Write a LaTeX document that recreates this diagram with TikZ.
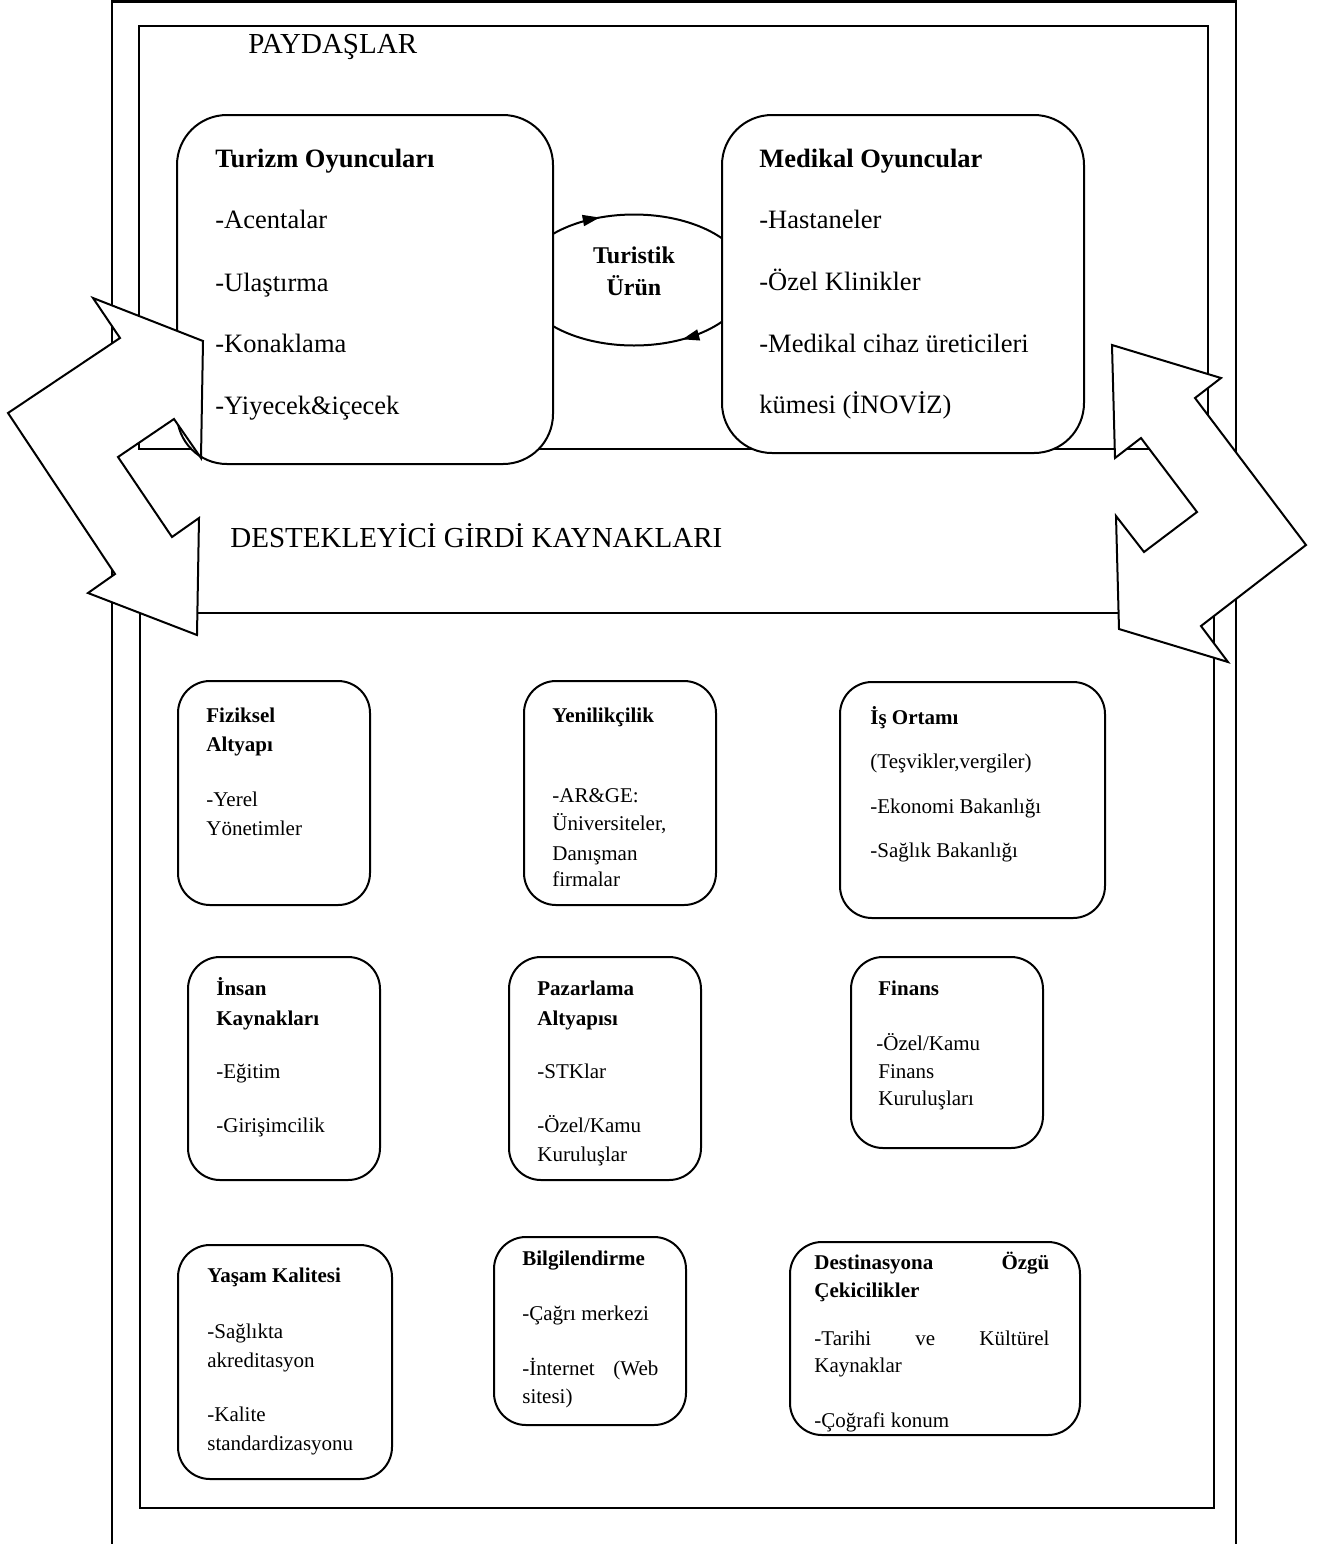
\documentclass[tikz,border=0pt]{standalone}
\usepackage{fontspec}
\setmainfont{Liberation Serif}
\usetikzlibrary{arrows.meta,decorations.markings}
\tikzset{
  frame/.style={draw=black, line width=1.4pt},
  bigbox/.style={draw=black, fill=white, line width=1pt, rounded corners=25pt, inner sep=0pt, outer sep=0pt},
  smallbox/.style={draw=black, fill=white, line width=1pt, rounded corners=16pt, inner sep=0pt, outer sep=0pt},
  bent/.style={draw=black, fill=white, line width=1pt, line join=miter},
  head/.style={anchor=base west, inner sep=0pt, font=\fontsize{14.5}{17}\selectfont},
  bigtx/.style={anchor=base west, inner sep=0pt, font=\fontsize{13.25}{16}\selectfont},
  smtx/.style={anchor=base west, inner sep=0pt, font=\fontsize{10.5}{12.6}\selectfont},
  cyctip/.tip={Triangle[length=8.5pt,width=5.5pt]},
}
\newcommand{\pbox}[6]{\node[#1, minimum width={(#5-#3)*0.5pt}, minimum height={(#6-#4)*0.5pt}] (#2) at ({(#3+#5)/2},{(#4+#6)/2}) {};}
\begin{document}
\begin{tikzpicture}[x=0.5pt,y=-0.5pt]
\useasboundingbox[fill=white] (0,0) rectangle (1319,1544);
% frames
\draw[frame] (112,1544) -- (112,1.5) -- (1236,1.5) -- (1236,1544);
\draw[frame] (139,26) rectangle (1208,449);
\draw[frame] (140,613) rectangle (1214,1508);
% cycle ellipse
\draw[line width=1pt, decoration={markings,
   mark=at position 0.19 with {\arrow{cyctip}},
   mark=at position 0.665 with {\arrow{cyctip}}},
   postaction={decorate}]
   (520,280) arc[start angle=180, end angle=-180, x radius=57pt, y radius=32.75pt];
% big boxes
\pbox{bigbox}{turizm}{177}{115}{553}{464}
\pbox{bigbox}{medikal}{722}{115}{1084}{453}
\node[anchor=base, inner sep=0pt, font=\bfseries\fontsize{12}{14}\selectfont] (tur1) at (634,263) {Turistik};
\node[anchor=base, inner sep=0pt, font=\bfseries\fontsize{12}{14}\selectfont] (tur2) at (634,295) {Ürün};
% bent arrows
\draw[bent] (203,341) -- (93,298) -- (120,338) -- (8,413) -- (115,574) -- (88,593) -- (197,635) -- (199,518) -- (172,537) -- (118,457) -- (174,419) -- (201,458) -- cycle;
\draw[bent] (1112,345) -- (1221,378) -- (1195,398) -- (1306,545) -- (1201,626) -- (1228,662) -- (1119,629) -- (1116,516) -- (1144,552) -- (1197,512) -- (1141,438) -- (1115,458) -- cycle;
% headings
\node[head] (payd) at (248,53) {PAYDAŞLAR};
\node[head] (dest) at (230,547) {DESTEKLEYİCİ GİRDİ KAYNAKLARI};
% Turizm texts
\node[bigtx] (t1) at (215,167) {\textbf{Turizm Oyuncuları}};
\node[bigtx] (t2) at (215,228) {-Acentalar};
\node[bigtx] (t3) at (215,291) {-Ulaştırma};
\node[bigtx] (t4) at (215,352) {-Konaklama};
\node[bigtx] (t5) at (215,414) {-Yiyecek\&içecek};
% Medikal texts
\node[bigtx] (m1) at (759,167) {\textbf{Medikal Oyuncular}};
\node[bigtx] (m2) at (759,228) {-Hastaneler};
\node[bigtx] (m3) at (759,290) {-Özel Klinikler};
\node[bigtx] (m4) at (759,352) {-Medikal cihaz üreticileri};
\node[bigtx] (m5) at (759,413) {kümesi (İNOVİZ)};
% small boxes
\pbox{smallbox}{fiz}{178}{681}{370}{905}
\pbox{smallbox}{yen}{524}{681}{716}{905}
\pbox{smallbox}{iso}{840}{682}{1105}{918}
\pbox{smallbox}{ins}{188}{957}{380}{1180}
\pbox{smallbox}{paz}{509}{957}{701}{1180}
\pbox{smallbox}{fin}{851}{957}{1043}{1148}
\pbox{smallbox}{yas}{178}{1245}{392}{1479}
\pbox{smallbox}{bil}{494}{1237}{686}{1425}
\pbox{smallbox}{des}{790}{1242}{1080}{1435}
% Fiziksel
\node[smtx] (f1) at (206,722) {\textbf{Fiziksel}};
\node[smtx] (f2) at (206,751) {\textbf{Altyapı}};
\node[smtx] (f3) at (206,806) {-Yerel};
\node[smtx] (f4) at (206,835) {Yönetimler};
% Yenilikcilik
\node[smtx] (y1) at (552,722) {\textbf{Yenilikçilik}};
\node[smtx] (y2) at (552,802) {-AR\&GE:};
\node[smtx] (y3) at (552,830) {Üniversiteler,};
\node[smtx] (y4) at (552,860) {Danışman};
\node[smtx] (y5) at (552,886) {firmalar};
% Is Ortami
\node[smtx] (i1) at (870,724) {\textbf{İş Ortamı}};
\node[smtx] (i2) at (870,768) {(Teşvikler,vergiler)};
\node[smtx] (i3) at (870,813) {-Ekonomi Bakanlığı};
\node[smtx] (i4) at (870,857) {-Sağlık Bakanlığı};
% Insan
\node[smtx] (n1) at (216,995) {\textbf{İnsan}};
\node[smtx] (n2) at (216,1025) {\textbf{Kaynakları}};
\node[smtx] (n3) at (216,1078) {-Eğitim};
\node[smtx] (n4) at (216,1132) {-Girişimcilik};
% Pazarlama
\node[smtx] (p1) at (537,995) {\textbf{Pazarlama}};
\node[smtx] (p2) at (537,1025) {\textbf{Altyapısı}};
\node[smtx] (p3) at (537,1078) {-STKlar};
\node[smtx] (p4) at (537,1132) {-Özel/Kamu};
\node[smtx] (p5) at (537,1161) {Kuruluşlar};
% Finans
\node[smtx] (q1) at (878,995) {\textbf{Finans}};
\node[smtx] (q2) at (876,1050) {-Özel/Kamu};
\node[smtx] (q3) at (878,1078) {Finans};
\node[smtx] (q4) at (878,1105) {Kuruluşları};
% Yasam
\node[smtx] (k1) at (207,1282) {\textbf{Yaşam Kalitesi}};
\node[smtx] (k2) at (207,1338) {-Sağlıkta};
\node[smtx] (k3) at (207,1367) {akreditasyon};
\node[smtx] (k4) at (207,1421) {-Kalite};
\node[smtx] (k5) at (207,1450) {standardizasyonu};
% Bilgilendirme
\node[smtx] (b1) at (522,1265) {\textbf{Bilgilendirme}};
\node[smtx] (b2) at (522,1320) {-Çağrı merkezi};
\node[smtx] (b3) at (522,1375) {\makebox[68pt][s]{-İnternet (Web}};
\node[smtx] (b4) at (522,1403) {sitesi)};
% Destinasyon
\node[smtx] (d1) at (814,1269) {\makebox[117.5pt][s]{\textbf{Destinasyona Özgü}}};
\node[smtx] (d2) at (814,1297) {\textbf{Çekicilikler}};
\node[smtx] (d3) at (814,1345) {\makebox[117.5pt][s]{-Tarihi ve Kültürel}};
\node[smtx] (d4) at (814,1372) {Kaynaklar};
\node[smtx] (d5) at (814,1427) {-Çoğrafi konum};
\end{tikzpicture}
\end{document}
